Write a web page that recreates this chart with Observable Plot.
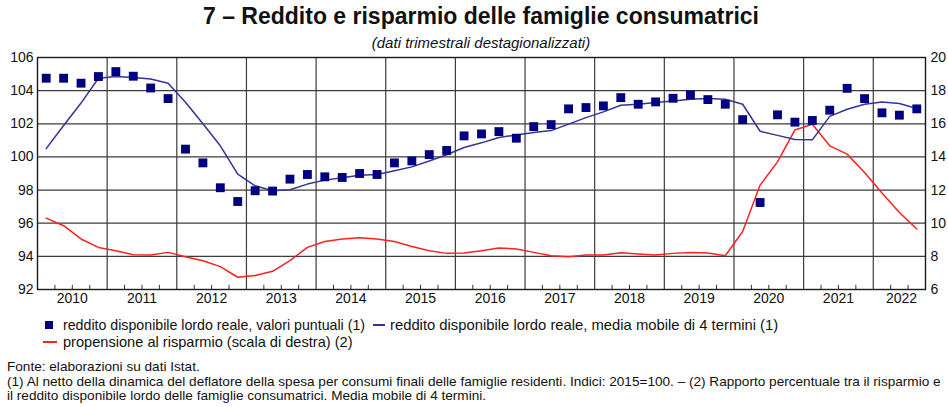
<!DOCTYPE html>
<html>
<head>
<meta charset="utf-8">
<script src="https://cdn.jsdelivr.net/npm/d3@7"></script>
<script src="https://cdn.jsdelivr.net/npm/@observablehq/plot@0.6"></script>
<style>
  html, body { margin: 0; padding: 0; background: #fff; }
  body { width: 948px; height: 407px; position: relative; overflow: hidden; font-family: "Liberation Sans", Arial, sans-serif; color: #111; }
  .abs { position: absolute; white-space: nowrap; }
  #title { left: 37px; width: 888px; top: 5px; text-align: center; font-weight: bold; font-size: 23px; line-height: 23px; }
  #subtitle { left: 37px; width: 888px; top: 35px; text-align: center; font-style: italic; font-size: 15px; line-height: 15px; }
  #chart { position: absolute; left: 0; top: 0; }
  .leg { line-height: 14px; }
  .note { font-size: 13.6px; line-height: 14px; left: 7px; }
</style>
</head>
<body>
<div id="chart"></div>
<div class="abs" id="title">7 – Reddito e risparmio delle famiglie consumatrici</div>
<div class="abs" id="subtitle">(dati trimestrali destagionalizzati)</div>

<div class="abs" style="left:45px; top:321px; width:8px; height:8px; background:#000080;"></div>
<div class="abs leg" style="left:63px; top:318px; font-size:14.2px;">reddito disponibile lordo reale, valori puntuali (1)</div>
<div class="abs" style="left:373px; top:324px; width:12px; height:2px; background:#333399;"></div>
<div class="abs leg" style="left:390px; top:318px; font-size:14.8px;">reddito disponibile lordo reale, media mobile di 4 termini (1)</div>
<div class="abs" style="left:43px; top:341px; width:14px; height:2px; background:#ff2020;"></div>
<div class="abs leg" style="left:63px; top:335px; font-size:14.6px;">propensione al risparmio (scala di destra) (2)</div>

<div class="abs note" style="top:360px;">Fonte: elaborazioni su dati Istat.</div>
<div class="abs note" style="top:375px;">(1) Al netto della dinamica del deflatore della spesa per consumi finali delle famiglie residenti. Indici: 2015=100. – (2) Rapporto percentuale tra il risparmio e</div>
<div class="abs note" style="top:389px;">il reddito disponibile lordo delle famiglie consumatrici. Media mobile di 4 termini.</div>

<script>
// Trimestri: 2010 T1 ... 2022 T3
const anni = [2010, 2011, 2012, 2013, 2014, 2015, 2016, 2017, 2018, 2019, 2020, 2021, 2022];

// Reddito disponibile lordo reale, valori puntuali (indici 2015=100)
const valoriPuntuali = [
  104.75, 104.75, 104.45, 104.85,
  105.15, 104.87, 104.16, 103.52,
  100.47, 99.64, 98.14, 97.31,
  97.96, 97.94, 98.66, 98.94,
  98.80, 98.76, 99.00, 98.94,
  99.64, 99.76, 100.14, 100.39,
  101.27, 101.39, 101.53, 101.13,
  101.83, 101.95, 102.90, 102.98,
  103.08, 103.58, 103.18, 103.32,
  103.54, 103.74, 103.46, 103.18,
  102.25, 97.25, 102.54, 102.10,
  102.20, 102.82, 104.14, 103.52,
  102.66, 102.52, 102.90
];

// Reddito disponibile lordo reale, media mobile di 4 termini
const mediaMobile = [
  100.50, 101.90, 103.25, 104.75,
  104.85, 104.80, 104.70, 104.45,
  103.30, 102.00, 100.67, 98.96,
  98.26, 97.96, 98.02, 98.36,
  98.60, 98.75, 98.90, 98.94,
  99.16, 99.40, 99.75, 100.13,
  100.57, 100.85, 101.17, 101.33,
  101.47, 101.59, 101.98, 102.37,
  102.72, 103.12, 103.18, 103.28,
  103.38, 103.48, 103.52, 103.48,
  103.18, 101.55, 101.30, 101.05,
  101.03, 102.45, 102.88, 103.18,
  103.32, 103.22, 102.92
];

// Propensione al risparmio (scala di destra, %)
const propensione = [
  10.31, 9.85, 9.05, 8.54,
  8.34, 8.10, 8.08, 8.24,
  7.98, 7.74, 7.38, 6.74,
  6.84, 7.10, 7.74, 8.54,
  8.90, 9.05, 9.13, 9.05,
  8.90, 8.60, 8.34, 8.18,
  8.20, 8.34, 8.50, 8.45,
  8.24, 8.04, 7.98, 8.08,
  8.08, 8.22, 8.14, 8.08,
  8.18, 8.24, 8.20, 8.04,
  9.50, 12.30, 13.70, 15.63,
  15.97, 14.67, 14.17, 13.06,
  11.82, 10.65, 9.65
];

const tickSinistra = [92, 94, 96, 98, 100, 102, 104, 106];
const tickDestra = [6, 8, 10, 12, 14, 16, 18, 20];
const etichetteAnni = ["2010", "2011", "2012", "2013", "2014", "2015", "2016", "2017", "2018", "2019", "2020", "2021", "2022"];

// Right scale maps onto left scale: 6..20 <-> 92..106
const offsetDestra = 86;

const data = valoriPuntuali.map((v, i) => ({
  x: anni[0] + Math.floor(i / 4) + ((i % 4) + 0.5) / 4,
  punti: v,
  media: mediaMobile[i],
  risp: propensione[i] + offsetDestra
}));

const xEnd = anni[0] + Math.floor((data.length - 1) / 4) + ((data.length - 1) % 4 + 1) / 4;
const confiniAnni = anni.slice(1);
const confiniTrimestri = anni.flatMap(a => [a + 0.25, a + 0.5, a + 0.75]).filter(v => v < xEnd);
const posEtichette = anni.map(a => Math.min(a + 0.5, (a + xEnd) / 2 + 0.03));

const grid = "#3c3c3c";

const chart = Plot.plot({
  width: 948,
  height: 315,
  marginTop: 57,
  marginBottom: 26,
  marginLeft: 37,
  marginRight: 23,
  x: { domain: [anni[0], xEnd] },
  y: { domain: [92, 106] },
  style: { fontFamily: "'Liberation Sans', Arial, sans-serif", fontSize: "14px", color: "#111", background: "transparent", overflow: "visible" },
  marks: [
    Plot.ruleY(tickSinistra.slice(1, -1), { stroke: grid, strokeWidth: 1.2 }),
    Plot.ruleX(confiniAnni, { stroke: grid, strokeWidth: 1.2 }),
    Plot.ruleX(confiniTrimestri, { y1: 92, y2: 92.25, stroke: "#333", strokeWidth: 1 }),
    Plot.frame({ stroke: "#1a1a1a", strokeWidth: 1.4 }),
    Plot.axisY({ ticks: tickSinistra, tickSize: 0, tickPadding: 4, label: null }),
    Plot.axisY({ anchor: "right", ticks: tickSinistra, tickSize: 0, tickPadding: 5, label: null,
                 tickFormat: d => String(tickDestra[tickSinistra.indexOf(d)]) }),
    Plot.axisX({ ticks: posEtichette, tickSize: 0, tickPadding: 4, label: null,
                 tickFormat: d => etichetteAnni[posEtichette.indexOf(d)] }),
    Plot.line(data, { x: "x", y: "risp", stroke: "#ff2020", strokeWidth: 1.5 }),
    Plot.line(data, { x: "x", y: "media", stroke: "#333399", strokeWidth: 1.5 }),
    Plot.dot(data, { x: "x", y: "punti", symbol: "square", r: 5, fill: "#000080", stroke: "none" })
  ]
});
document.getElementById("chart").appendChild(chart);
</script>
</body>
</html>
